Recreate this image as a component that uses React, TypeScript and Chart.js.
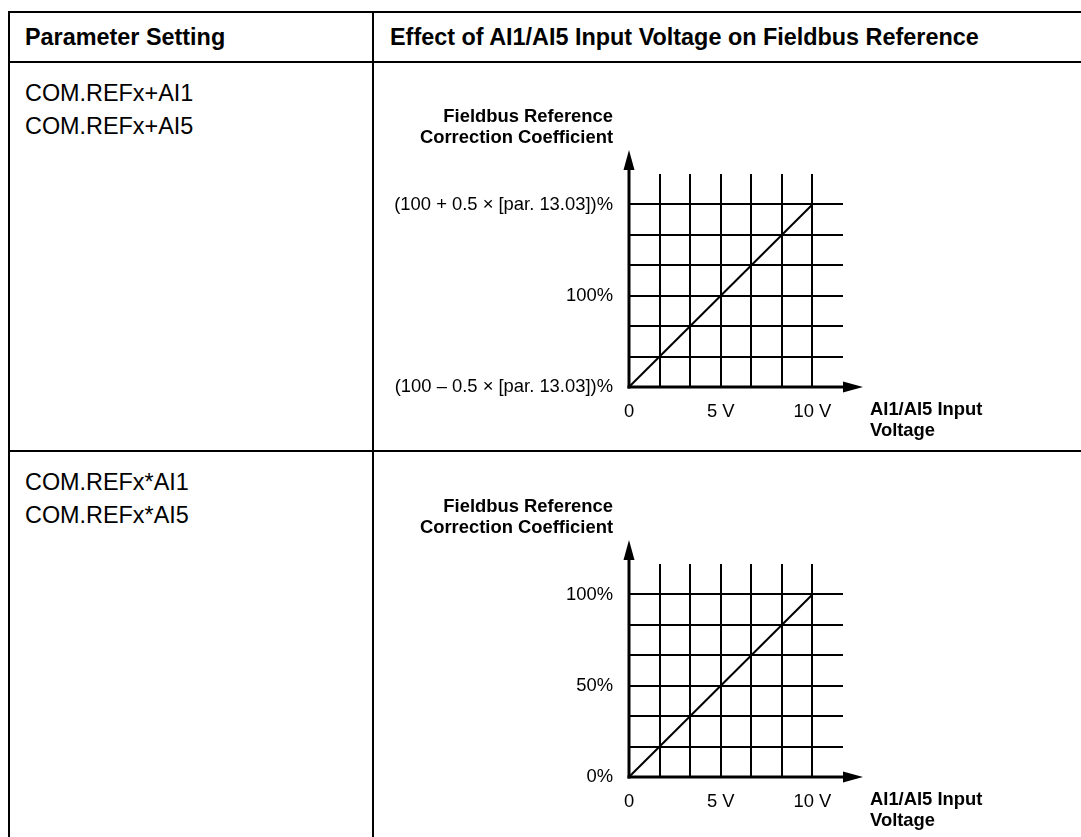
import React, { useEffect, useRef } from "react";
import { Chart, registerables } from "chart.js";

Chart.register(...registerables);

const FONT = '"Liberation Sans", Arial, Helvetica, sans-serif';

// ---- table texts ----
const headerTexts = ["Parameter Setting", "Effect of AI1/AI5 Input Voltage on Fieldbus Reference"];
const row1Settings = ["COM.REFx+AI1", "COM.REFx+AI5"];
const row2Settings = ["COM.REFx*AI1", "COM.REFx*AI5"];

// ---- shared x axis (input voltage, V) ----
const xGridVolts = [0, 5 / 3, 10 / 3, 5, 20 / 3, 25 / 3, 10, 35 / 3];
const xTickValues = [0, 5, 10];
const xTickLabels = ["0", "5 V", "10 V"];
const xAxisTitle = ["AI1/AI5 Input", "Voltage"];
const yAxisTitle = ["Fieldbus Reference", "Correction Coefficient"];

// ---- chart 1: COM.REFx+AI (y in units of 0.5 × par. 13.03 around 100 %) ----
const addVoltage = [0, 10];
const addCoeff = [-1, 1];
const addGrid = [-1, -2 / 3, -1 / 3, 0, 1 / 3, 2 / 3, 1, 4 / 3];
const addTickValues = [-1, 0, 1];
const addTickLabels = ["(100 – 0.5 × [par. 13.03])%", "100%", "(100 + 0.5 × [par. 13.03])%"];

// ---- chart 2: COM.REFx*AI (y in %) ----
const mulVoltage = [0, 10];
const mulCoeff = [0, 100];
const mulGrid = [0, 50 / 3, 100 / 3, 50, 200 / 3, 250 / 3, 100, 350 / 3];
const mulTickValues = [0, 50, 100];
const mulTickLabels = ["0%", "50%", "100%"];

function lookupLabel(v: number, vals: number[], labels: string[]) {
  for (let i = 0; i < vals.length; i++) if (Math.abs(vals[i] - v) < 1e-6) return labels[i];
  return "";
}

const axisDecor = {
  id: "axisDecor",
  afterDraw(chart: any) {
    const { ctx, chartArea: a } = chart;
    const x0 = a.left;
    const y0 = a.bottom;
    ctx.save();
    ctx.strokeStyle = "#000";
    ctx.fillStyle = "#000";
    ctx.lineWidth = 3;
    ctx.lineCap = "butt";
    // y axis with arrow
    const yTip = a.top - 24;
    ctx.beginPath();
    ctx.moveTo(x0, y0 + 1.5);
    ctx.lineTo(x0, yTip + 12);
    ctx.stroke();
    ctx.beginPath();
    ctx.moveTo(x0, yTip);
    ctx.lineTo(x0 - 5.5, yTip + 20);
    ctx.lineTo(x0 + 5.5, yTip + 20);
    ctx.closePath();
    ctx.fill();
    // x axis with arrow
    const xTip = a.right + 20;
    ctx.beginPath();
    ctx.moveTo(x0 - 1.5, y0);
    ctx.lineTo(xTip - 12, y0);
    ctx.stroke();
    ctx.beginPath();
    ctx.moveTo(xTip, y0);
    ctx.lineTo(xTip - 20, y0 - 5.5);
    ctx.lineTo(xTip - 20, y0 + 5.5);
    ctx.closePath();
    ctx.fill();
    // titles
    ctx.font = `bold 18.4px ${FONT}`;
    ctx.textBaseline = "middle";
    ctx.textAlign = "right";
    ctx.fillText(yAxisTitle[0], x0 - 16, a.top - 57);
    ctx.fillText(yAxisTitle[1], x0 - 16, a.top - 36);
    ctx.textAlign = "left";
    ctx.fillText(xAxisTitle[0], a.right + 27, y0 + 23);
    ctx.fillText(xAxisTitle[1], a.right + 27, y0 + 44);
    ctx.restore();
  },
};

function makeConfig(
  xs: number[],
  ys: number[],
  yGrid: number[],
  yTickVals: number[],
  yTickLabels: string[],
  xAxisHeight: number
): any {
  const gridColor = (n: number) => (c: any) =>
    c.index === 0 || c.index === n - 1 ? "rgba(0,0,0,0)" : "#000";
  return {
    type: "line",
    data: {
      datasets: [
        {
          data: xs.map((x, i) => ({ x, y: ys[i] })),
          borderColor: "#000",
          borderWidth: 2,
          pointRadius: 0,
          fill: false,
          tension: 0,
        },
      ],
    },
    options: {
      animation: false,
      responsive: false,
      maintainAspectRatio: false,
      events: [],
      layout: { padding: { left: 0, right: 238, top: 111, bottom: 0 } },
      plugins: { legend: { display: false }, tooltip: { enabled: false }, title: { display: false } },
      scales: {
        x: {
          type: "linear",
          min: xGridVolts[0],
          max: xGridVolts[xGridVolts.length - 1],
          afterBuildTicks: (s: any) => {
            s.ticks = xGridVolts.map((v) => ({ value: v }));
          },
          afterFit: (s: any) => {
            s.height = xAxisHeight;
          },
          grid: { color: gridColor(xGridVolts.length), lineWidth: 2, drawTicks: false },
          border: { display: false },
          ticks: {
            autoSkip: false,
            maxRotation: 0,
            padding: 14,
            color: "#000",
            font: { family: FONT, size: 18.4 },
            callback: (v: number) => lookupLabel(v, xTickValues, xTickLabels),
          },
        },
        y: {
          type: "linear",
          min: yGrid[0],
          max: yGrid[yGrid.length - 1],
          afterBuildTicks: (s: any) => {
            s.ticks = yGrid.map((v) => ({ value: v }));
          },
          afterFit: (s: any) => {
            s.width = 255;
          },
          grid: { color: gridColor(yGrid.length), lineWidth: 2, drawTicks: false },
          border: { display: false },
          ticks: {
            autoSkip: false,
            padding: 16,
            color: "#000",
            font: { family: FONT, size: 18.4 },
            callback: (v: number) => lookupLabel(v, yTickVals, yTickLabels),
          },
        },
      },
    },
    plugins: [axisDecor],
  };
}

function ChartCanvas(props: { left: number; top: number; width: number; height: number; config: () => any }) {
  const ref = useRef<HTMLCanvasElement | null>(null);
  useEffect(() => {
    if (!ref.current) return;
    const chart = new Chart(ref.current, props.config());
    return () => chart.destroy();
  }, []);
  return (
    <canvas
      ref={ref}
      width={props.width}
      height={props.height}
      style={{ position: "absolute", left: props.left, top: props.top, width: props.width, height: props.height }}
    />
  );
}

const line = (left: number, top: number, width: number, height: number) => (
  <div style={{ position: "absolute", left, top, width, height, background: "#000" }} />
);

const text = (s: string, left: number, centerY: number, bold: boolean) => (
  <div
    style={{
      position: "absolute",
      left,
      top: centerY - 15,
      height: 30,
      lineHeight: "30px",
      fontSize: 23.4,
      fontWeight: bold ? "bold" : "normal",
      whiteSpace: "nowrap",
      color: "#000",
    }}
  >
    {s}
  </div>
);

export default function App() {
  const DIV_X = 372;
  return (
    <div
      style={{
        position: "absolute",
        left: 0,
        top: 0,
        width: 1081,
        height: 837,
        overflow: "hidden",
        background: "#fff",
        fontFamily: FONT,
      }}
    >
      {line(8, 11, 1073, 2)}
      {line(8, 61, 1073, 2)}
      {line(8, 450, 1073, 2)}
      {line(8, 11, 2, 826)}
      {line(DIV_X, 11, 2, 826)}
      {text(headerTexts[0], 25, 37, true)}
      {text(headerTexts[1], DIV_X + 18, 37, true)}
      {text(row1Settings[0], 25, 93, false)}
      {text(row1Settings[1], 25, 126, false)}
      {text(row2Settings[0], 25, 482, false)}
      {text(row2Settings[1], 25, 515, false)}
      <ChartCanvas
        left={374}
        top={63}
        width={707}
        height={387}
        config={() => makeConfig(addVoltage, addCoeff, addGrid, addTickValues, addTickLabels, 63)}
      />
      <ChartCanvas
        left={374}
        top={453}
        width={707}
        height={384}
        config={() => makeConfig(mulVoltage, mulCoeff, mulGrid, mulTickValues, mulTickLabels, 60)}
      />
    </div>
  );
}
